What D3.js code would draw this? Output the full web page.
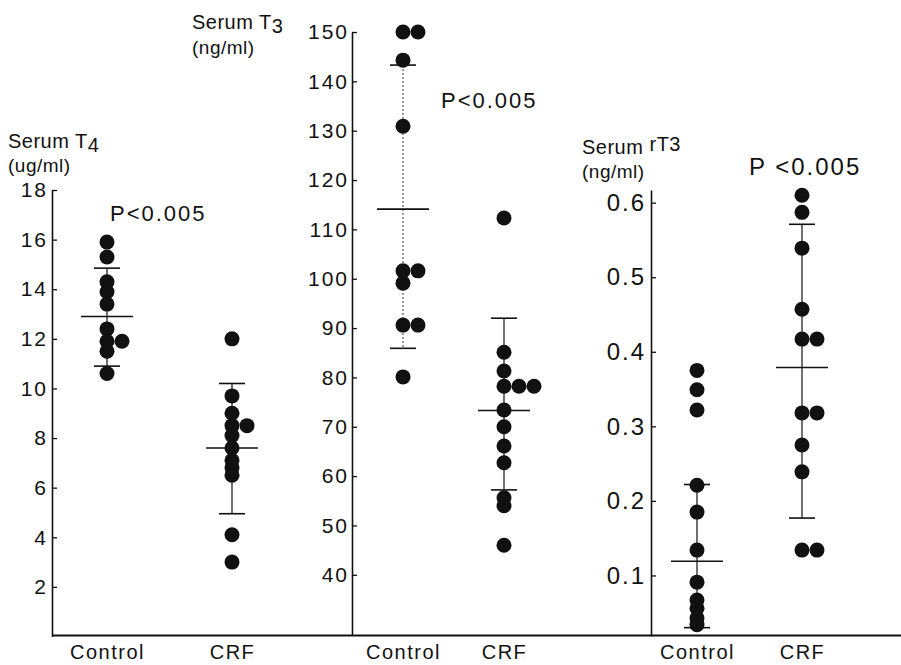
<!DOCTYPE html>
<html>
<head>
<meta charset="utf-8">
<script src="https://cdn.jsdelivr.net/npm/d3@7"></script>
<style>
  html, body { margin: 0; padding: 0; background: #fff; }
  svg { display: block; }
  text { font-family: "Liberation Sans", Arial, sans-serif; fill: #111; }
</style>
</head>
<body>
<svg id="chart" width="901" height="665"></svg>
<script>
// ---------------- DATA ----------------
const groups = ["Control", "CRF"];

// Serum T4 (ug/ml)
const t4Control = [15.9, 15.3, 14.3, 13.9, 13.4, 12.4, 11.9, 11.9, 11.5, 10.6];
const t4Crf     = [12.0, 9.7, 9.0, 8.5, 8.5, 8.1, 7.6, 7.1, 6.8, 6.5, 4.1, 3.0];
const t4Mean    = [12.9, 7.6];
const t4Upper   = [14.85, 10.2];
const t4Lower   = [10.9, 4.95];
const t4Ticks   = [2, 4, 6, 8, 10, 12, 14, 16, 18];

// Serum T3 (ng/ml)
const t3Control = [150, 150, 144.3, 130.9, 101.6, 101.6, 99.1, 90.6, 90.6, 80.1];
const t3Crf     = [112.3, 85.1, 81.3, 78.2, 78.2, 78.2, 73.4, 70.0, 66.1, 62.7, 55.6, 54.0, 46.0];
const t3Mean    = [114.1, 73.3];
const t3Upper   = [143.3, 92.0];
const t3Lower   = [85.9, 57.2];
const t3Ticks   = [40, 50, 60, 70, 80, 90, 100, 110, 120, 130, 140, 150];

// Serum rT3 (ng/ml)
const rt3Control = [0.375, 0.349, 0.322, 0.221, 0.185, 0.134, 0.091, 0.067, 0.056, 0.043, 0.034];
const rt3Crf     = [0.610, 0.587, 0.539, 0.457, 0.417, 0.417, 0.318, 0.318, 0.275, 0.239, 0.134, 0.134];
const rt3Mean    = [0.119, 0.379];
const rt3Upper   = [0.222, 0.571];
const rt3Lower   = [0.030, 0.177];
const rt3Ticks   = [0.1, 0.2, 0.3, 0.4, 0.5, 0.6];

// ---------------- LAYOUT ----------------
const svg = d3.select("#chart");
const baseY = 635.5;

const panels = [
  {
    values: [t4Control, t4Crf], mean: t4Mean, upper: t4Upper, lower: t4Lower, ticks: t4Ticks,
    tickFmt: d3.format("d"),
    axisX: 52, domain: [0, 18], range: [636.5, 190],
    xRange: [107, 232], baseRange: [52, 300],
    title: ["Serum T", "4"], unit: "(ug/ml)", titleX: 8, titleY: 148, unitY: 172, subDy: 4,
    p: "P<0.005", pX: 110, pY: 221, pSize: 22,
    tickSize: 21, tickSpacing: 2, tickPad: 4, dashed: [false, false]
  },
  {
    values: [t3Control, t3Crf], mean: t3Mean, upper: t3Upper, lower: t3Lower, ticks: t3Ticks,
    tickFmt: d3.format("d"),
    axisX: 352, domain: [27.8, 150], range: [635, 32],
    xRange: [403, 504], baseRange: [300, 585],
    title: ["Serum T", "3"], unit: "(ng/ml)", titleX: 192, titleY: 29, unitY: 54, subDy: 4,
    p: "P<0.005", pX: 441, pY: 108, pSize: 22,
    tickSize: 21, tickSpacing: 2, tickPad: 3, dashed: [true, false]
  },
  {
    values: [rt3Control, rt3Crf], mean: rt3Mean, upper: rt3Upper, lower: rt3Lower, ticks: rt3Ticks,
    tickFmt: d3.format(".1f"),
    axisX: 651, domain: [0.0188, 0.617], range: [636, 190],
    xRange: [697, 802], baseRange: [585, 901],
    title: ["Serum ", "rT3"], unit: "(ng/ml)", titleX: 582, titleY: 154, unitY: 178, subDy: -3,
    p: "P <0.005", pX: 749, pY: 175, pSize: 24,
    tickSize: 24, tickSpacing: 2, tickPad: 5, dashed: [false, false]
  }
];

const r = 7.5;
const dupStep = 15;

panels.forEach(pn => {
  const g = svg.append("g");
  const y = d3.scaleLinear().domain(pn.domain).range(pn.range);
  const x = d3.scalePoint().domain(groups).range(pn.xRange);

  // baseline (x axis line)
  g.append("line")
    .attr("x1", pn.baseRange[0]).attr("x2", pn.baseRange[1])
    .attr("y1", baseY).attr("y2", baseY)
    .attr("stroke", "#111").attr("stroke-width", 2);

  // y axis
  const yAxis = d3.axisLeft(y).tickValues(pn.ticks).tickFormat(pn.tickFmt)
    .tickSizeInner(-5).tickSizeOuter(0).tickPadding(pn.tickPad);
  const ya = g.append("g").attr("transform", `translate(${pn.axisX},0)`).call(yAxis);
  ya.select(".domain").attr("stroke", "#111").attr("stroke-width", 1.6);
  ya.selectAll(".tick line").attr("stroke", "#111").attr("stroke-width", 1.3);
  ya.selectAll(".tick text")
    .style("font-size", pn.tickSize + "px")
    .style("letter-spacing", pn.tickSpacing + "px")
    .attr("fill", "#111");

  // x axis labels
  const xAxis = d3.axisBottom(x).tickSize(0).tickPadding(9);
  const xa = g.append("g").attr("transform", `translate(0,${baseY})`).call(xAxis);
  xa.select(".domain").remove();
  xa.selectAll(".tick text")
    .style("font-size", "20px")
    .style("letter-spacing", "1.5px")
    .attr("fill", "#111");

  // mean / SD markers
  groups.forEach((grp, i) => {
    const cx = x(grp);
    g.append("line")
      .attr("x1", cx).attr("x2", cx)
      .attr("y1", y(pn.upper[i])).attr("y2", y(pn.lower[i]))
      .attr("stroke", pn.dashed[i] ? "#555" : "#111")
      .attr("stroke-width", 1.2)
      .attr("stroke-dasharray", pn.dashed[i] ? "2,2" : null);
    [pn.upper[i], pn.lower[i]].forEach(v => {
      g.append("line")
        .attr("x1", cx - 13).attr("x2", cx + 13)
        .attr("y1", y(v)).attr("y2", y(v))
        .attr("stroke", "#111").attr("stroke-width", 1.6);
    });
    g.append("line")
      .attr("x1", cx - 26).attr("x2", cx + 26)
      .attr("y1", y(pn.mean[i])).attr("y2", y(pn.mean[i]))
      .attr("stroke", "#111").attr("stroke-width", 1.6);

    // points: identical values are placed side by side
    const seen = new Map();
    const pts = pn.values[i].map(v => {
      const k = seen.get(v) || 0;
      seen.set(v, k + 1);
      return { v, k };
    });
    g.selectAll(null).data(pts).enter().append("circle")
      .attr("cx", d => cx + d.k * dupStep)
      .attr("cy", d => y(d.v))
      .attr("r", r)
      .attr("fill", "#111");
  });

  // titles
  const t = g.append("text").attr("x", pn.titleX).attr("y", pn.titleY)
    .style("font-size", "20px").style("letter-spacing", "0.5px");
  t.append("tspan").text(pn.title[0]);
  t.append("tspan").attr("dy", pn.subDy).text(pn.title[1]);
  g.append("text").attr("x", pn.titleX).attr("y", pn.unitY)
    .style("font-size", "19px").style("letter-spacing", "0.5px")
    .text(pn.unit);

  g.append("text").attr("x", pn.pX).attr("y", pn.pY)
    .style("font-size", pn.pSize + "px").style("letter-spacing", "2px")
    .text(pn.p);
});
</script>
</body>
</html>
